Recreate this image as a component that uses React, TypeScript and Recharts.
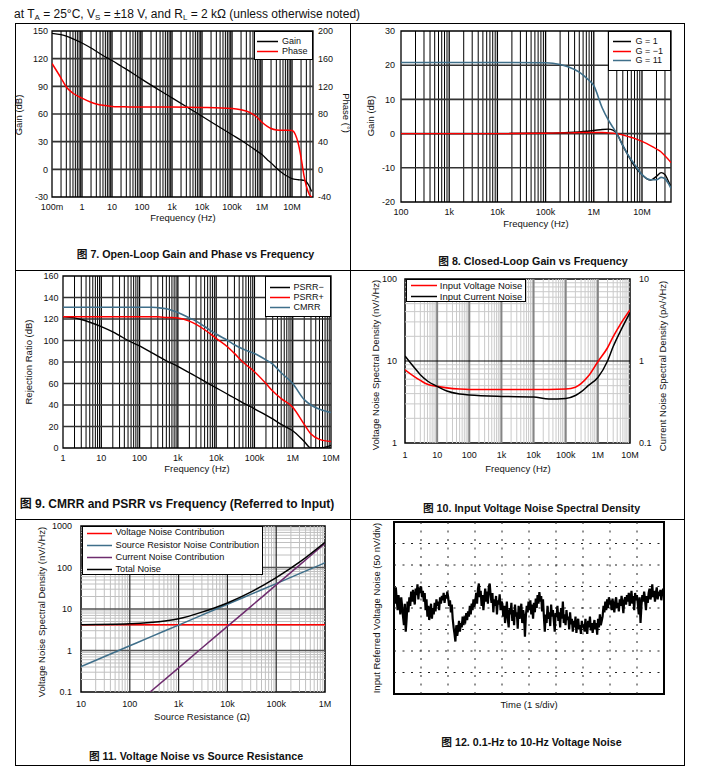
import React from "react";
import { LineChart, Line, XAxis, YAxis, ReferenceLine, ReferenceArea, Legend } from "recharts";

const FONT = '"Liberation Sans", Arial, "Noto Sans CJK SC", sans-serif';
const RED = "#ff0000";
const BLUE = "#3f6f8a";
const PURPLE = "#6e2c6e";
const BLACK = "#000000";

// ---------- Fig 7: open-loop gain & phase ----------
const f7Freq = [0.1, 0.2, 0.3, 0.5, 1, 2, 3, 5, 10, 20, 50, 100, 1e3, 1e4, 1e5, 2e5, 4e5, 7e5, 1e6, 1.5e6, 2e6, 3e6, 5e6, 7e6, 1e7, 1.3e7, 1.6e7, 2e7, 2.5e7, 3e7, 3.5e7, 4e7, 4.5e7];
const f7Gain = [147.5, 146, 144.5, 141.5, 137, 131.5, 128, 123.5, 118, 112, 104, 97.5, 77.5, 57.5, 37.5, 31.5, 25, 19.5, 16, 10.5, 7, 1.5, -4.5, -7.5, -10, -11, -11.3, -11.5, -12, -13.5, -16.5, -20, -24];
const f7Phase = [153, 132, 119, 110, 103, 97, 94.5, 92.5, 91, 90.5, 90, 90, 90, 89.5, 88, 86, 82, 75, 68, 62, 59, 57, 56.5, 56.5, 56, 50, 38, 17, -9, -24, -33, -38, -40];
const f7Ticks = [0.1, 1, 10, 100, 1e3, 1e4, 1e5, 1e6, 1e7];
const f7Labels = ["100m", "1", "10", "100", "1k", "10k", "100k", "1M", "10M"];
const g7Ticks = [-30, 0, 30, 60, 90, 120, 150];
const p7Ticks = [-40, 0, 40, 80, 120, 160, 200];

// ---------- Fig 8: closed-loop gain ----------
const f8Freq = [100, 1e3, 1e4, 1e5, 2e5, 3e5, 5e5, 7e5, 1e6, 1.5e6, 2e6, 2.5e6, 3e6, 4e6, 5e6, 7e6, 1e7, 1.5e7, 2e7, 2.5e7, 3e7, 3.5e7, 4e7];
const g8One = [0, 0, 0, 0.1, 0.2, 0.3, 0.5, 0.7, 0.9, 1.2, 1.3, 1.0, 0, -3.5, -6, -9.5, -12, -13.6, -12.5, -11.4, -12, -13.8, -15.5];
const g8MinusOne = [0, 0, 0, 0.1, 0.2, 0.2, 0.3, 0.3, 0.3, 0.3, 0.2, 0.1, 0, -0.4, -0.8, -1.4, -2.3, -3.5, -4.5, -5.4, -6.5, -7.5, -8.5];
const g8Eleven = [20.8, 20.8, 20.8, 20.7, 20.2, 19.5, 18, 16.3, 14, 7.5, 4, 1.8, 0, -3.5, -6, -9, -12, -13.5, -13.5, -12.8, -13.2, -14.5, -16];
const f8Ticks = [100, 1e3, 1e4, 1e5, 1e6, 1e7];
const f8Labels = ["100", "1k", "10k", "100k", "1M", "10M"];
const g8Ticks = [-20, -10, 0, 10, 20, 30];

// ---------- Fig 9: CMRR / PSRR ----------
const f9Freq = [1, 2, 3, 5, 10, 20, 30, 50, 100, 200, 300, 500, 1e3, 2e3, 3e3, 5e3, 1e4, 2e4, 3e4, 5e4, 1e5, 2e5, 3e5, 5e5, 1e6, 2e6, 3e6, 5e6, 1e7];
const psrrMinus = [122, 121, 119.5, 117, 113, 108, 104.5, 100, 95, 89, 85.5, 81, 76, 70, 66.5, 62, 56, 50, 46.5, 42, 36.5, 30.5, 27, 22, 16, 6, 0, 0, 2.5];
const psrrPlus = [122, 122, 122, 122, 122, 122, 122, 122, 122, 122, 122, 121.5, 121, 118, 115, 110, 102, 94, 88, 80, 71, 60, 53, 46, 38, 22, 13, 8, 6];
const cmrr = [131, 131, 131, 131, 131, 131, 131, 131, 131, 131, 130.5, 129.5, 126, 121, 118, 113, 106, 100, 96, 92, 88, 82, 78, 70, 60, 45, 40, 36, 33];
const f9Ticks = [1, 10, 100, 1e3, 1e4, 1e5, 1e6, 1e7];
const f9Labels = ["1", "10", "100", "1k", "10k", "100k", "1M", "10M"];
const r9Ticks = [0, 20, 40, 60, 80, 100, 120, 140, 160];

// ---------- Fig 10: noise spectral density ----------
const f10Freq = [1, 2, 3, 5, 10, 20, 50, 100, 1e3, 1e4, 3e4, 1e5, 2e5, 3e5, 5e5, 1e6, 2e6, 3e6, 5e6, 1e7];
const vNoise = [7.8, 6.4, 5.8, 5.2, 4.9, 4.7, 4.55, 4.5, 4.5, 4.5, 4.5, 4.55, 4.8, 5.3, 6.5, 9.8, 14.5, 19.8, 28, 42];
const iNoise = [1.15, 0.82, 0.68, 0.57, 0.49, 0.43, 0.395, 0.385, 0.37, 0.365, 0.345, 0.35, 0.38, 0.42, 0.5, 0.63, 1.0, 1.5, 2.3, 3.9];
const v10Ticks = [1, 10, 100];
const i10Ticks = [0.1, 1, 10];

// ---------- Fig 11: noise vs source resistance ----------
const r11Res = [10, 100, 260, 1e3, 3e3, 1e4, 3e4, 1e5, 3e5, 1e6];
const vContrib = [4.2, 4.2, 4.2, 4.2, 4.2, 4.2, 4.2, 4.2, 4.2, 4.2];
const rContrib = [0.41, 1.3, 2.1, 4.1, 7.1, 13, 22.5, 41, 71, 130];
const iContrib = [null, null, 0.1, 0.38, 1.15, 3.8, 11.4, 38, 114, 380];
const totalNoise = [4.2, 4.4, 4.7, 5.8, 8.4, 14, 25.5, 57, 134, 405];
const r11Ticks = [10, 100, 1e3, 1e4, 1e5, 1e6];
const r11Labels = ["10", "100", "1k", "10k", "100k", "1M"];
const n11Ticks = [0.1, 1, 10, 100, 1000];

// ---------- Fig 12: 0.1-10 Hz noise (nV, 30 samples per division) ----------
const noiseDiv0 = [35, 10, 48, 20, -5, 30, 12, -15, 25, 5, -20, -40, 10, -55, -25, 15, -10, 25, 5, 38, 15, 42, 22, 8, 45, 30, 55, 20, 48, 35];
const noiseDiv1 = [50, 25, 40, 15, 35, -5, 20, -20, 5, -28, -10, 10, -25, 0, -15, 12, -8, 20, 5, 15, -5, 25, 10, 28, 18, 35, 12, 30, 22, 38];
const noiseDiv2 = [25, 5, 18, -10, 8, -25, -45, -60, -78, -40, -65, -50, -30, -55, -35, -45, -20, -40, -25, -30, -12, -28, -8, -20, 5, -15, 10, -5, 20, 2];
const noiseDiv3 = [15, 35, 10, 45, 57, 25, 40, 5, 30, -5, 22, 45, 15, 38, 10, 50, 57, 30, 12, 35, -10, 20, 5, 28, -15, 18, 8, 32, -5, 15];
const noiseDiv4 = [10, -20, 5, -35, -8, 15, -25, -45, 0, -15, 12, -30, -5, -40, 8, -20, -10, -48, 5, -25, -12, 10, -35, -5, -18, -67, -20, 5, -10, 15];
const noiseDiv5 = [-5, 18, -15, 8, -25, 12, -10, 22, 0, 30, 10, 37, 15, 28, -8, 20, -20, -55, -15, -35, 5, -25, -10, -42, 8, -20, -5, -30, -55, -12];
const noiseDiv6 = [-20, 5, -30, -10, -45, 0, -25, 15, -35, -15, -40, -5, -28, -20, -50, -10, -38, -25, -55, -30, -45, -20, -58, -35, -25, -50, -40, -60, -30, -45];
const noiseDiv7 = [-38, -55, -25, -48, -60, -30, -45, -20, -52, -35, -58, -40, -28, -50, -35, -62, -25, -45, -15, -40, -30, -20, 5, -10, 15, -5, 20, 0, 25, 8];
const noiseDiv8 = [18, -5, 22, 5, -10, 15, 25, 0, 12, -8, 20, 5, 28, 10, -12, 18, 25, 8, 30, 15, 35, 5, 22, 40, 10, 28, -5, 35, 18, 30];
const noiseDiv9 = [10, -15, 25, -35, 5, 30, 15, 38, 20, -5, 28, 12, 35, 45, 20, 30, 55, 25, 40, 15, 35, 48, 20, 38, 28, 42, 18, 35, 45, 30];

// ---------- helpers ----------
const rows = (x: number[], cols: Record<string, (number | null)[]>) =>
  x.map((v, i) => {
    const r: Record<string, number | null> = { x: v };
    Object.keys(cols).forEach((k) => (r[k] = cols[k][i]));
    return r;
  });

function logGrid(lo: number, hi: number) {
  const minor: number[] = [];
  const major: number[] = [];
  for (let d = lo; d < hi * 1.0001; d *= 10) {
    for (let m = 1; m < 10; m++) {
      const v = +(m * d).toPrecision(6);
      if (v <= lo * 1.0001 || v >= hi * 0.9999) continue;
      (m === 1 ? major : minor).push(v);
    }
  }
  return { minor, major };
}

const fmt = (ticks: number[], labels: string[]) => (v: number) => {
  const i = ticks.findIndex((t) => Math.abs(t - v) <= Math.abs(t) * 1e-6);
  return i >= 0 ? labels[i] : String(v);
};

const tickStyle = { fontSize: 9, fill: "#111", fontFamily: FONT };
const axisBase = { tickLine: false, axisLine: false, tickSize: 0, interval: 0 as const, allowDataOverflow: true, tick: tickStyle };

type Box = { x0: number; y0: number; x1: number; y1: number };
const TM = 8;

function Txt({ x, y, size = 9.5, bold = false, rot = 0, children }: any) {
  return (
    <div
      style={{
        position: "absolute",
        left: x,
        top: y,
        transform: `translate(-50%, -50%) rotate(${rot}deg)`,
        fontSize: size,
        fontWeight: bold ? 700 : 400,
        whiteSpace: "nowrap",
        lineHeight: 1,
        color: "#111",
        fontFamily: FONT,
      }}
    >
      {children}
    </div>
  );
}

type LegItem = { name: string; color: string };
type LegCfg = { x: number; y: number; w: number; h: number; padL: number; padT: number; lineLen: number; gap: number; rowH: number; fs: number };

function LegendBox({ items, c }: { items: LegItem[]; c: LegCfg }) {
  return (
    <div
      style={{
        width: c.w,
        height: c.h,
        boxSizing: "border-box",
        border: "1px solid #000",
        background: "#fff",
        paddingLeft: c.padL - 1,
        paddingTop: c.padT - 1,
        fontFamily: FONT,
        fontSize: c.fs,
        color: "#111",
      }}
    >
      {items.map((it) => (
        <div key={it.name} style={{ display: "flex", alignItems: "center", height: c.rowH, whiteSpace: "nowrap" }}>
          <svg width={c.lineLen} height={3} style={{ marginRight: c.gap, flex: "none", display: "block" }}>
            <line x1={0} y1={1.5} x2={c.lineLen} y2={1.5} stroke={it.color} strokeWidth={1.5} />
          </svg>
          <span style={{ lineHeight: 1 }}>{it.name}</span>
        </div>
      ))}
    </div>
  );
}

function legendEl(items: LegItem[], c: LegCfg, box: Box, lw: number) {
  return (
    <Legend
      layout="vertical"
      align="center"
      verticalAlign="middle"
      wrapperStyle={{ left: c.x - (box.x0 - lw), top: c.y - (box.y0 - TM), width: c.w, height: c.h }}
      content={() => <LegendBox items={items} c={c} />}
    />
  );
}

function vLines(vals: number[], stroke: string, w: number, yId: string | number = 0) {
  return vals.map((v) => <ReferenceLine key={"v" + v + stroke} x={v} yAxisId={yId} stroke={stroke} strokeWidth={w} />);
}
function hLines(vals: number[], stroke: string, w: number, yId: string | number = 0, dash?: string) {
  return vals.map((v) => (
    <ReferenceLine key={"h" + v + stroke} y={v} yAxisId={yId} stroke={stroke} strokeWidth={w} strokeDasharray={dash} />
  ));
}

function pos(box: Box, lw: number) {
  return { position: "absolute" as const, left: box.x0 - lw, top: box.y0 - TM };
}

// ---------- chart geometry ----------
const c1: Box = { x0: 52, y0: 31, x1: 313, y1: 197 };
const c2: Box = { x0: 401, y0: 31, x1: 671, y1: 202 };
const c3: Box = { x0: 63, y0: 276, x1: 331, y1: 448 };
const c4: Box = { x0: 405, y0: 279, x1: 630, y1: 443 };
const c5: Box = { x0: 81, y0: 526, x1: 325, y1: 692 };
const c6: Box = { x0: 394, y0: 522, x1: 664, y1: 694 };
const LW = 40;
const BH = 22;

function Chart7() {
  const data = rows(f7Freq, { gain: f7Gain, phase: f7Phase });
  const g = logGrid(0.1, 5e7);
  const RW = 35;
  return (
    <div style={pos(c1, LW)}>
      <LineChart width={c1.x1 - c1.x0 + LW + RW} height={c1.y1 - c1.y0 + TM + BH} data={data} margin={{ top: TM, right: 0, left: 0, bottom: 0 }}>
        <XAxis dataKey="x" type="number" scale="log" domain={[0.1, 5e7]} ticks={f7Ticks} tickFormatter={fmt(f7Ticks, f7Labels)} height={BH} tickMargin={6.5} {...axisBase} />
        <YAxis yAxisId="l" type="number" domain={[-30, 150]} ticks={g7Ticks} width={LW} tickMargin={4} {...axisBase} />
        <YAxis yAxisId="r" orientation="right" type="number" domain={[-40, 200]} ticks={p7Ticks} width={RW} tickMargin={5} {...axisBase} />
        {vLines(g.minor, "#000", 1, "l")}
        {vLines(g.major, "#000", 1.3, "l")}
        {hLines([0, 30, 60, 90, 120], "#333", 1.6, "l")}
        <Line yAxisId="l" dataKey="gain" name="Gain" type="monotone" stroke={BLACK} strokeWidth={1.3} dot={false} activeDot={false} isAnimationActive={false} />
        <Line yAxisId="r" dataKey="phase" name="Phase" type="monotone" stroke={RED} strokeWidth={1.5} dot={false} activeDot={false} isAnimationActive={false} />
        <ReferenceArea yAxisId="l" x1={0.1} x2={5e7} y1={-30} y2={150} fill="none" stroke="#000" strokeWidth={1.3} />
        {legendEl(
          [{ name: "Gain", color: BLACK }, { name: "Phase", color: RED }],
          { x: 254, y: 31, w: 59, h: 29, padL: 3, padT: 5, lineLen: 21, gap: 4, rowH: 10, fs: 9 },
          c1,
          LW
        )}
      </LineChart>
    </div>
  );
}

function Chart8() {
  const data = rows(f8Freq, { a: g8One, b: g8MinusOne, c: g8Eleven });
  const g = logGrid(100, 4e7);
  const RW = 10;
  return (
    <div style={pos(c2, LW)}>
      <LineChart width={c2.x1 - c2.x0 + LW + RW} height={c2.y1 - c2.y0 + TM + BH} data={data} margin={{ top: TM, right: RW, left: 0, bottom: 0 }}>
        <XAxis dataKey="x" type="number" scale="log" domain={[100, 4e7]} ticks={f8Ticks} tickFormatter={fmt(f8Ticks, f8Labels)} height={BH} tickMargin={6.5} {...axisBase} />
        <YAxis type="number" domain={[-20, 30]} ticks={g8Ticks} width={LW} tickMargin={6} {...axisBase} />
        {vLines(g.minor, "#000", 1)}
        {vLines(g.major, "#000", 1.3)}
        {hLines([-10, 0, 10, 20], "#333", 1.6)}
        <Line dataKey="a" name="G = 1" type="monotone" stroke={BLACK} strokeWidth={1.4} dot={false} activeDot={false} isAnimationActive={false} />
        <Line dataKey="b" name="G = −1" type="monotone" stroke={RED} strokeWidth={1.4} dot={false} activeDot={false} isAnimationActive={false} />
        <Line dataKey="c" name="G = 11" type="monotone" stroke={BLUE} strokeWidth={1.6} dot={false} activeDot={false} isAnimationActive={false} />
        <ReferenceArea x1={100} x2={4e7} y1={-20} y2={30} fill="none" stroke="#000" strokeWidth={1.3} />
        {legendEl(
          [{ name: "G = 1", color: BLACK }, { name: "G = −1", color: RED }, { name: "G = 11", color: BLUE }],
          { x: 608, y: 31, w: 63, h: 40, padL: 4.5, padT: 5.5, lineLen: 18, gap: 5, rowH: 9.8, fs: 9 },
          c2,
          LW
        )}
      </LineChart>
    </div>
  );
}

function Chart9() {
  const data = rows(f9Freq, { m: psrrMinus, p: psrrPlus, c: cmrr });
  const g = logGrid(1, 1e7);
  const RW = 10;
  return (
    <div style={pos(c3, LW)}>
      <LineChart width={c3.x1 - c3.x0 + LW + RW} height={c3.y1 - c3.y0 + TM + BH} data={data} margin={{ top: TM, right: RW, left: 0, bottom: 0 }}>
        <XAxis dataKey="x" type="number" scale="log" domain={[1, 1e7]} ticks={f9Ticks} tickFormatter={fmt(f9Ticks, f9Labels)} height={BH} tickMargin={6.5} {...axisBase} />
        <YAxis type="number" domain={[0, 160]} ticks={r9Ticks} width={LW} tickMargin={4.5} {...axisBase} />
        {vLines(g.minor, "#000", 1)}
        {vLines(g.major, "#000", 1.3)}
        {hLines([20, 40, 60, 80, 100, 120, 140], "#333", 1.6)}
        <Line dataKey="m" name="PSRR−" type="monotone" stroke={BLACK} strokeWidth={1.4} dot={false} activeDot={false} isAnimationActive={false} />
        <Line dataKey="p" name="PSRR+" type="monotone" stroke={RED} strokeWidth={1.5} dot={false} activeDot={false} isAnimationActive={false} />
        <Line dataKey="c" name="CMRR" type="monotone" stroke={BLUE} strokeWidth={1.6} dot={false} activeDot={false} isAnimationActive={false} />
        <ReferenceArea x1={1} x2={1e7} y1={0} y2={160} fill="none" stroke="#000" strokeWidth={1.3} />
        {legendEl(
          [{ name: "PSRR−", color: BLACK }, { name: "PSRR+", color: RED }, { name: "CMRR", color: BLUE }],
          { x: 265, y: 276, w: 66, h: 41, padL: 5, padT: 6.8, lineLen: 20, gap: 3.5, rowH: 9.8, fs: 9 },
          c3,
          LW
        )}
      </LineChart>
    </div>
  );
}

function Chart10() {
  const data = rows(f10Freq, { v: vNoise, i: iNoise });
  const gx = logGrid(1, 1e7);
  const gy = logGrid(1, 100);
  const RW = 30;
  return (
    <div style={pos(c4, LW)}>
      <LineChart width={c4.x1 - c4.x0 + LW + RW} height={c4.y1 - c4.y0 + TM + BH} data={data} margin={{ top: TM, right: 0, left: 0, bottom: 0 }}>
        <XAxis dataKey="x" type="number" scale="log" domain={[1, 1e7]} ticks={f9Ticks} tickFormatter={fmt(f9Ticks, f9Labels)} height={BH} tickMargin={8.5} {...axisBase} />
        <YAxis yAxisId="l" type="number" scale="log" domain={[1, 100]} ticks={v10Ticks} width={LW} tickMargin={8} {...axisBase} />
        <YAxis yAxisId="r" orientation="right" type="number" scale="log" domain={[0.1, 10]} ticks={i10Ticks} width={RW} tickMargin={9} {...axisBase} />
        {vLines(gx.minor, "#cacaca", 1, "l")}
        {hLines(gy.minor, "#cacaca", 1, "l")}
        {vLines(gx.major, "#858585", 2, "l")}
        {hLines(gy.major, "#000", 1, "l")}
        <Line yAxisId="l" dataKey="v" name="Input Voltage Noise" type="monotone" stroke={RED} strokeWidth={1.6} dot={false} activeDot={false} isAnimationActive={false} />
        <Line yAxisId="r" dataKey="i" name="Input Current Noise" type="monotone" stroke={BLACK} strokeWidth={1.5} dot={false} activeDot={false} isAnimationActive={false} />
        <ReferenceArea yAxisId="l" x1={1} x2={1e7} y1={1} y2={100} fill="none" stroke="#000" strokeWidth={1.5} />
        {legendEl(
          [{ name: "Input Voltage Noise", color: RED }, { name: "Input Current Noise", color: BLACK }],
          { x: 406, y: 279, w: 120, h: 23, padL: 5.3, padT: 1, lineLen: 26, gap: 2.5, rowH: 11, fs: 9.5 },
          c4,
          LW
        )}
      </LineChart>
    </div>
  );
}

function Chart11() {
  const data = rows(r11Res, { v: vContrib, r: rContrib, i: iContrib, t: totalNoise });
  const gx = logGrid(10, 1e6);
  const gy = logGrid(0.1, 1000);
  const RW = 10;
  return (
    <div style={pos(c5, LW)}>
      <LineChart width={c5.x1 - c5.x0 + LW + RW} height={c5.y1 - c5.y0 + TM + BH} data={data} margin={{ top: TM, right: RW, left: 0, bottom: 0 }}>
        <XAxis dataKey="x" type="number" scale="log" domain={[10, 1e6]} ticks={r11Ticks} tickFormatter={fmt(r11Ticks, r11Labels)} height={BH} tickMargin={8.5} {...axisBase} />
        <YAxis type="number" scale="log" domain={[0.1, 1000]} ticks={n11Ticks} width={LW} tickMargin={9} {...axisBase} />
        {vLines(gx.minor, "#c0c0c0", 1)}
        {hLines(gy.minor, "#c0c0c0", 1)}
        {vLines(gx.major, "#222", 1.2)}
        {hLines(gy.major, "#555", 1.3)}
        <Line dataKey="v" name="Voltage Noise Contribution" type="monotone" stroke={RED} strokeWidth={1.5} dot={false} activeDot={false} isAnimationActive={false} />
        <Line dataKey="r" name="Source Resistor Noise Contribution" type="monotone" stroke={BLUE} strokeWidth={1.5} dot={false} activeDot={false} isAnimationActive={false} />
        <Line dataKey="i" name="Current Noise Contribution" type="monotone" connectNulls stroke={PURPLE} strokeWidth={1.5} dot={false} activeDot={false} isAnimationActive={false} />
        <Line dataKey="t" name="Total Noise" type="monotone" stroke={BLACK} strokeWidth={1.5} dot={false} activeDot={false} isAnimationActive={false} />
        <ReferenceArea x1={10} x2={1e6} y1={0.1} y2={1000} fill="none" stroke="#000" strokeWidth={1.5} />
        {legendEl(
          [
            { name: "Voltage Noise Contribution", color: RED },
            { name: "Source Resistor Noise Contribution", color: BLUE },
            { name: "Current Noise Contribution", color: PURPLE },
            { name: "Total Noise", color: BLACK },
          ],
          { x: 82, y: 526, w: 181, h: 49, padL: 5, padT: 0.5, lineLen: 25, gap: 3.5, rowH: 12.2, fs: 9.2 },
          c5,
          LW
        )}
      </LineChart>
    </div>
  );
}

function Chart12() {
  const trace = [...noiseDiv0, ...noiseDiv1, ...noiseDiv2, ...noiseDiv3, ...noiseDiv4, ...noiseDiv5, ...noiseDiv6, ...noiseDiv7, ...noiseDiv8, ...noiseDiv9];
  const last = trace.length - 1;
  const data = trace.map((v, i) => ({ x: i, v }));
  const divX = [1, 2, 3, 4, 5, 6, 7, 8, 9].map((k) => (k * last) / 10);
  const divY = [-150, -100, -50, 0, 50, 100, 150];
  const M = 4;
  return (
    <div style={{ position: "absolute", left: c6.x0 - M, top: c6.y0 - M }}>
      <LineChart width={c6.x1 - c6.x0 + 2 * M} height={c6.y1 - c6.y0 + 2 * M} data={data} margin={{ top: M, right: M, left: M, bottom: M }}>
        <XAxis dataKey="x" type="number" domain={[0, last]} hide allowDataOverflow />
        <YAxis type="number" domain={[-200, 200]} hide allowDataOverflow />
        {divX.map((v) => (
          <ReferenceLine key={"dx" + v} x={v} stroke="#222" strokeWidth={1} strokeDasharray="2 6.5" />
        ))}
        {hLines(divY, "#222", 1, 0, "2 6.5")}
        <Line dataKey="v" type="linear" stroke={BLACK} strokeWidth={2.2} dot={false} activeDot={false} isAnimationActive={false} />
        <ReferenceArea x1={0} x2={last} y1={-200} y2={200} fill="none" stroke="#000" strokeWidth={2} />
      </LineChart>
    </div>
  );
}

export default function App() {
  const line = (style: React.CSSProperties) => <div style={{ position: "absolute", background: "#000", ...style }} />;
  const subStyle: React.CSSProperties = { fontSize: 8, verticalAlign: "-2px", lineHeight: 0 };
  return (
    <div style={{ position: "absolute", left: 0, top: 0, width: 705, height: 777, background: "#fff", fontFamily: FONT, color: "#111", overflow: "hidden" }}>
      <div style={{ position: "absolute", left: 14, top: 7, fontSize: 12, lineHeight: "14px", whiteSpace: "nowrap" }}>
        {"at T"}<sub style={subStyle}>A</sub>{" = 25°C, V"}<sub style={subStyle}>S</sub>{" = ±18 V, and R"}<sub style={subStyle}>L</sub>{" = 2 kΩ (unless otherwise noted)"}
      </div>

      {/* panel frame */}
      <div style={{ position: "absolute", left: 15, top: 23, width: 670, height: 743, border: "1px solid #000", boxSizing: "border-box" }} />
      {line({ left: 350, top: 23, width: 1, height: 743 })}
      {line({ left: 15, top: 270, width: 670, height: 1 })}
      {line({ left: 15, top: 519, width: 670, height: 1 })}

      <Chart7 />
      <Chart8 />
      <Chart9 />
      <Chart10 />
      <Chart11 />
      <Chart12 />

      {/* axis titles */}
      <Txt x={19} y={115} rot={-90}>Gain (dB)</Txt>
      <Txt x={346} y={113} rot={90}>Phase (°)</Txt>
      <Txt x={183} y={218}>Frequency (Hz)</Txt>

      <Txt x={371} y={116} rot={-90}>Gain (dB)</Txt>
      <Txt x={536} y={223.5}>Frequency (Hz)</Txt>

      <Txt x={29} y={362} rot={-90}>Rejection Ratio (dB)</Txt>
      <Txt x={197} y={469}>Frequency (Hz)</Txt>

      <Txt x={376} y={365} rot={-90}>Voltage Noise Spectral Density (nV/√Hz)</Txt>
      <Txt x={663} y={366} rot={-90}>Current Noise Spectral Density (pA/√Hz)</Txt>
      <Txt x={518} y={469}>Frequency (Hz)</Txt>

      <Txt x={42} y={612} rot={-90}>Voltage Noise Spectral Density (nV/√Hz)</Txt>
      <Txt x={202} y={717}>Source Resistance (Ω)</Txt>

      <Txt x={377} y={608} rot={-90}>Input Referred Voltage Noise (50 nV/div)</Txt>
      <Txt x={529} y={705}>Time (1 s/div)</Txt>

      {/* captions */}
      <Txt x={195.5} y={254} size={10.7} bold>图 7. Open-Loop Gain and Phase vs Frequency</Txt>
      <Txt x={533} y={261} size={10.7} bold>图 8. Closed-Loop Gain vs Frequency</Txt>
      <Txt x={177} y={504} size={12} bold>图 9. CMRR and PSRR vs Frequency (Referred to Input)</Txt>
      <Txt x={531.5} y={508} size={10.7} bold>图 10. Input Voltage Noise Spectral Density</Txt>
      <Txt x={196} y={756} size={10.7} bold>图 11. Voltage Noise vs Source Resistance</Txt>
      <Txt x={531.5} y={742} size={10.7} bold>图 12. 0.1-Hz to 10-Hz Voltage Noise</Txt>
    </div>
  );
}
